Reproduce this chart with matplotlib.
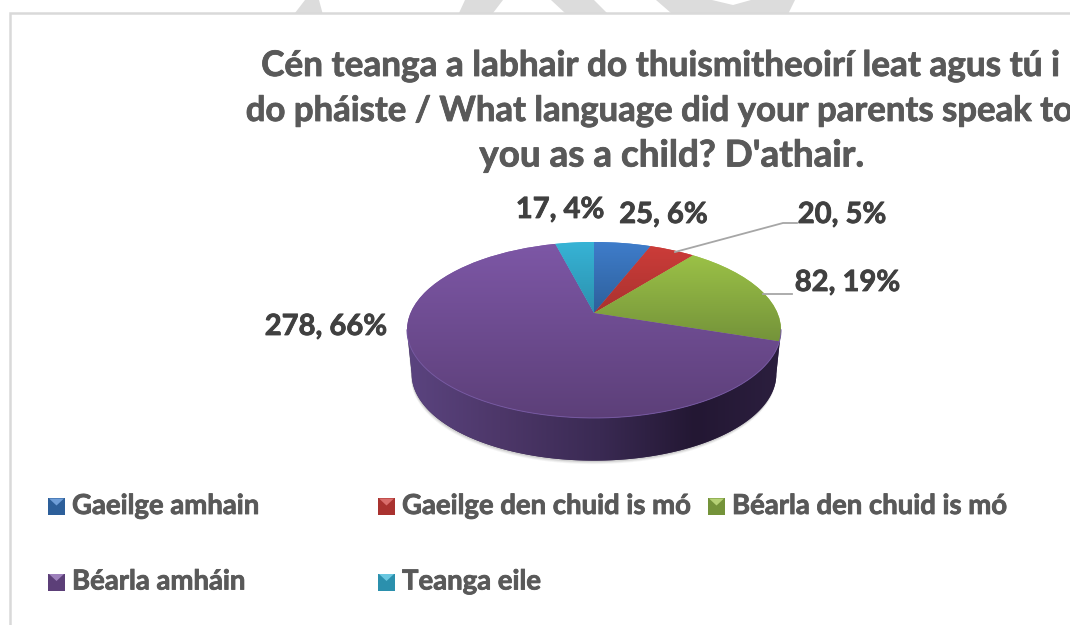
import numpy as np
import matplotlib
matplotlib.use('Agg')
import matplotlib.pyplot as plt
import matplotlib.patheffects as pe
from matplotlib.patches import Polygon
from matplotlib.transforms import Transform

# dados do grafico
categorias = ['Gaeilge amhain', 'Gaeilge den chuid is mó', 'Béarla den chuid is mó',
              'Béarla amháin', 'Teanga eile']
valores = [25, 20, 82, 278, 17]
titulo = ["Cén teanga a labhair do thuismitheoirí leat agus tú i",
          "do pháiste / What language did your parents speak to",
          "you as a child? D'athair."]
titulo_x = [660, 660, 671]
titulo_y = [66, 111, 156]
titulo_tam = [25.3, 25, 26.5]
cores_topo = ['#3f7dcb', '#cc3c39', '#9cc247', '#7d57a6', '#37b4d6']
cores_base = ['#2d5f9a', '#a9322f', '#74933a', '#5c3f78', '#2b90ad']
legenda_x = [48, 378, 708, 48, 378]
legenda_y = [506.5, 506.5, 506.5, 582, 582]
rotulo_pos = [(663.5, 215), (842, 215), (847.5, 283), (326, 327), (560, 210)]

# geometria da pizza em pixels
cx, apex_y, A, B, k = 594, 313, 183.5, 84.7, 0.193
centro_y, prof, esc = 330, 44, 0.975

negrito = [pe.withStroke(linewidth=0.6, foreground='#595959')]
negrito_esc = [pe.withStroke(linewidth=0.6, foreground='#404040')]


def projeta(x, y):
    w = 1 + k * y
    return cx + A * x / w, apex_y - B * y / w


class Perspectiva(Transform):
    input_dims = 2
    output_dims = 2
    is_separable = False

    def transform_non_affine(self, values):
        values = np.asarray(values, dtype=float)
        x, y = projeta(values[:, 0], values[:, 1])
        return np.column_stack([x, y])


def gradiente(ax, c1, c2, extent, horizontal=False, zorder=2):
    c1 = np.array(matplotlib.colors.to_rgb(c1))
    c2 = np.array(matplotlib.colors.to_rgb(c2))
    t = np.linspace(0, 1, 128)[:, None]
    img = (c1 * (1 - t) + c2 * t)[:, None, :]
    if horizontal:
        img = img.transpose(1, 0, 2)
    return ax.imshow(img, extent=extent, aspect='auto', zorder=zorder, interpolation='bilinear')


def clareia(c, f):
    c = np.array(matplotlib.colors.to_rgb(c))
    return tuple(c + (1 - c) * f)


fig = plt.figure(figsize=(10.7, 6.25), dpi=100)
ax = fig.add_axes([0, 0, 1, 1])

wedges, _ = ax.pie(valores, startangle=90, counterclock=False, colors=cores_topo)

# lateral da pizza, de tangente a tangente
ang = np.radians(np.linspace(101, 259, 200))
tx, ty = projeta(np.sin(ang), np.cos(ang))
bx = cx + (tx - cx) * esc
by = centro_y + (ty - centro_y) * 0.985 + prof
lateral_xy = np.column_stack([np.r_[tx, bx[::-1]], np.r_[ty, by[::-1]]])

# sombra
for d, a in [(3.5, 0.06), (2.5, 0.08), (1.5, 0.12)]:
    ax.add_patch(Polygon(np.column_stack([np.r_[tx, (bx - d * 0.2)[::-1]], np.r_[ty, (by + d)[::-1]]]),
                         fc='#404040', ec='none', alpha=a, zorder=1))

lateral = Polygon(lateral_xy, fc='#3b2b53', ec='none', zorder=1.5)
ax.add_patch(lateral)
paradas = [(405, '#5b4480'), (500, '#4d3769'), (600, '#3a2a53'), (695, '#231733'), (785, '#2c1f3f')]
for (x0, c0), (x1, c1) in zip(paradas[:-1], paradas[1:]):
    im = gradiente(ax, c0, c1, (x0, x1, 470, 300), horizontal=True, zorder=1.6)
    im.set_clip_path(lateral)

# face superior
persp = Perspectiva() + ax.transData
for w, c1, c2 in zip(wedges, cores_topo, cores_base):
    w.set_transform(persp)
    w.set_zorder(2)
    verts = Perspectiva().transform(w.get_path().vertices)
    extent = (verts[:, 0].min() - 2, verts[:, 0].max() + 2, verts[:, 1].max() + 1, verts[:, 1].min() - 1)
    im = gradiente(ax, c1, c2, extent, zorder=2.1)
    im.set_clip_path(w)

# brilho na borda da face superior
ax.plot(tx, ty, color='#7558a0', lw=0.7, zorder=2.5)

# linhas de chamada
ax.plot([675, 783, 797], [252, 223, 223], color='#a6a6a6', lw=1.3, zorder=3)
ax.plot([763, 792], [294, 294], color='#a6a6a6', lw=1.3, zorder=3)

# rotulos
total = sum(valores)
for v, (x, y) in zip(valores, rotulo_pos):
    ax.text(x, y, '%d, %d%%' % (v, round(100 * v / total)), ha='center', va='center',
            fontsize=21, fontweight='bold', family='Lato', color='#404040', zorder=4,
            path_effects=negrito_esc)

# titulo, a segunda linha passa da borda direita como no original
for linha, x, y, tam in zip(titulo, titulo_x, titulo_y, titulo_tam):
    ax.text(x, y, linha, ha='center', va='center', fontsize=tam, fontweight='bold',
            family='Lato', color='#595959', zorder=4, path_effects=negrito)

# legenda
for nome, x, y, c1, c2 in zip(categorias, legenda_x, legenda_y, cores_topo, cores_base):
    ax.add_patch(Polygon([(x, y - 8.5), (x + 17, y - 8.5), (x + 17, y + 8.5), (x, y + 8.5)], fc=c2, ec='none', zorder=3))
    ax.add_patch(Polygon([(x + 1, y - 8), (x + 16, y - 8), (x + 8.5, y - 1)], fc=clareia(c1, 0.25), ec='none', zorder=3.1))
    ax.text(x + 24, y - 0.5, nome, ha='left', va='center', fontsize=19.8, fontweight='bold',
            family='Lato', color='#595959', zorder=4, path_effects=negrito)

# moldura do grafico
ax.plot([10, 10, 1070], [625, 13, 13], color='#d9d9d9', lw=1.8, solid_joinstyle='miter', zorder=5)

# marca d'agua, so aparece acima da moldura
marca = [
    [(295, 13), (305, 0), (319, 0), (322.5, 13)],
    [(459, 13), (465, 0), (503, 0), (493, 13)],
    [(551, 0), (565, 13), (607, 13), (594, 0)],
    [(656, 0), (671, 13), (788.6, 13), (795, 0), (751, 0), (733, 5), (712, 0)],
]
for m in marca:
    ax.add_patch(Polygon(m, fc='#dcdcdc', ec='none', zorder=1))

ax.set_aspect('auto')
ax.set_xlim(0, 1070)
ax.set_ylim(625, 0)
ax.axis('off')

fig.savefig('out.png', dpi=100)
